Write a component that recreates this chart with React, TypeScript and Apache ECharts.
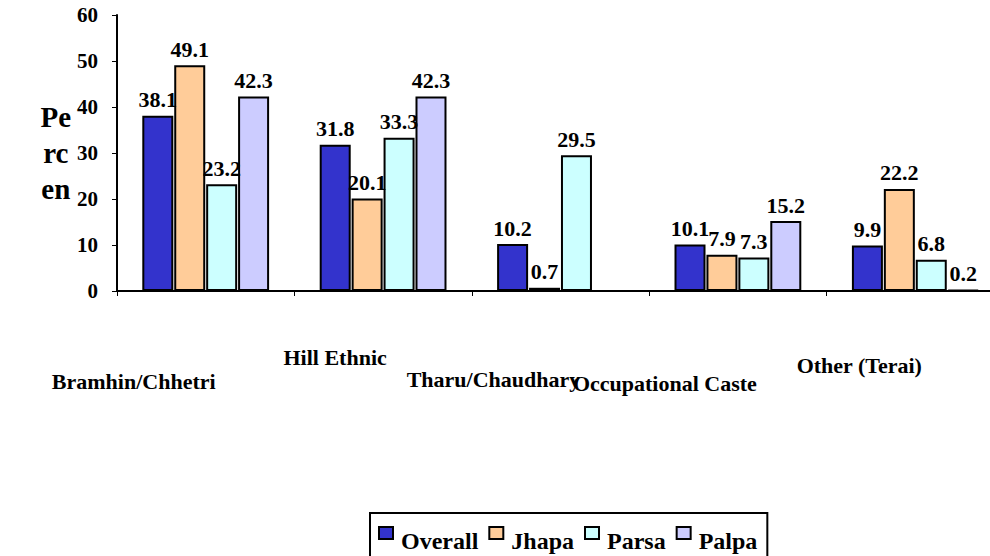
import React, { useEffect, useRef } from "react";
import * as echarts from "echarts";

const categories = ["Bramhin/Chhetri", "Hill Ethnic", "Tharu/Chaudhary", "Occupational Caste", "Other (Terai)"];
const seriesNames = ["Overall", "Jhapa", "Parsa", "Palpa"];
const overall = [38.1, 31.8, 10.2, 10.1, 9.9];
const jhapa = [49.1, 20.1, 0.7, 7.9, 22.2];
const parsa = [23.2, 33.3, 29.5, 7.3, 6.8];
const palpa = [42.3, 42.3, null, 15.2, 0.2];
const colors = ["#3333CC", "#FFCC99", "#CCFFFF", "#CCCCFF"];
const yTicks = { min: 0, max: 60, interval: 10 };
const yName = "Pe\nrc\nen";

// per-category label offsets [top, right] to mimic staggered labels
const labelPads: [number, number][] = [
  [143, 144],
  [94, 96],
  [139, 134],
  [146, 146],
  [111, 112],
];

const FONT = "Liberation Serif";

export default function App() {
  const ref = useRef<HTMLDivElement>(null);
  useEffect(() => {
    if (!ref.current) return;
    const chart = echarts.init(ref.current, undefined, { renderer: "svg" });
    const rich: Record<string, any> = {};
    labelPads.forEach((p, i) => {
      rich["c" + i] = {
        fontFamily: FONT,
        fontWeight: "bold",
        fontSize: 22,
        lineHeight: 22,
        color: "#000",
        padding: [p[0], p[1], 0, 0],
      };
    });
    const data = [overall, jhapa, parsa, palpa];
    chart.setOption({
      animation: false,
      textStyle: { fontFamily: FONT },
      grid: { left: 117, right: -14, top: 15, bottom: 265, outerBoundsMode: "none", containLabel: false },
      legend: {
        left: 370,
        top: 513,
        orient: "horizontal",
        borderColor: "#000",
        borderWidth: 2,
        padding: [0, 10, 10, 8],
        itemWidth: 14,
        itemHeight: 12,
        itemGap: 10,
        icon: "rect",
        data: seriesNames,
        formatter: "{a|{name}}",
        textStyle: {
          fontFamily: FONT,
          fontWeight: "bold",
          fontSize: 24,
          color: "#000",
          rich: {
            a: {
              fontFamily: FONT,
              fontWeight: "bold",
              fontSize: 24,
              lineHeight: 24,
              color: "#000",
              padding: [16, 0, 0, 3],
            },
          },
        },
      },
      xAxis: {
        type: "category",
        data: categories,
        axisLine: { lineStyle: { color: "#000", width: 2 } },
        axisTick: { show: true, alignWithLabel: false, length: 5, lineStyle: { color: "#000", width: 1 } },
        axisLabel: {
          interval: 0,
          margin: 8,
          formatter: (v: string) => {
            const i = categories.indexOf(v);
            return "{c" + i + "|" + v + "}";
          },
          rich,
        },
      },
      yAxis: {
        type: "value",
        min: yTicks.min,
        max: yTicks.max,
        interval: yTicks.interval,
        name: yName,
        nameLocation: "middle",
        nameRotate: 0,
        nameGap: 61,
        nameTextStyle: {
          fontFamily: FONT,
          fontWeight: "bold",
          fontSize: 29,
          lineHeight: 36,
          color: "#000",
          align: "center",
          verticalAlign: "middle",
        },
        splitLine: { show: false },
        axisLine: { show: true, lineStyle: { color: "#000", width: 2 } },
        axisTick: { show: true, length: 5, lineStyle: { color: "#000", width: 1 } },
        axisLabel: {
          margin: 19,
          fontFamily: FONT,
          fontWeight: "bold",
          fontSize: 21,
          color: "#000",
        },
      },
      series: seriesNames.map((name, i) => ({
        name,
        type: "bar",
        data: data[i],
        barWidth: 31,
        barGap: "3%",
        itemStyle: { color: colors[i], borderColor: "#000", borderWidth: 2 },
        label: {
          show: true,
          position: "top",
          distance: 5,
          fontFamily: FONT,
          fontWeight: "bold",
          fontSize: 22,
          color: "#000",
        },
      })),
    });
    return () => chart.dispose();
  }, []);
  return <div ref={ref} style={{ width: 990, height: 556, position: "absolute", left: 0, top: 0 }} />;
}
